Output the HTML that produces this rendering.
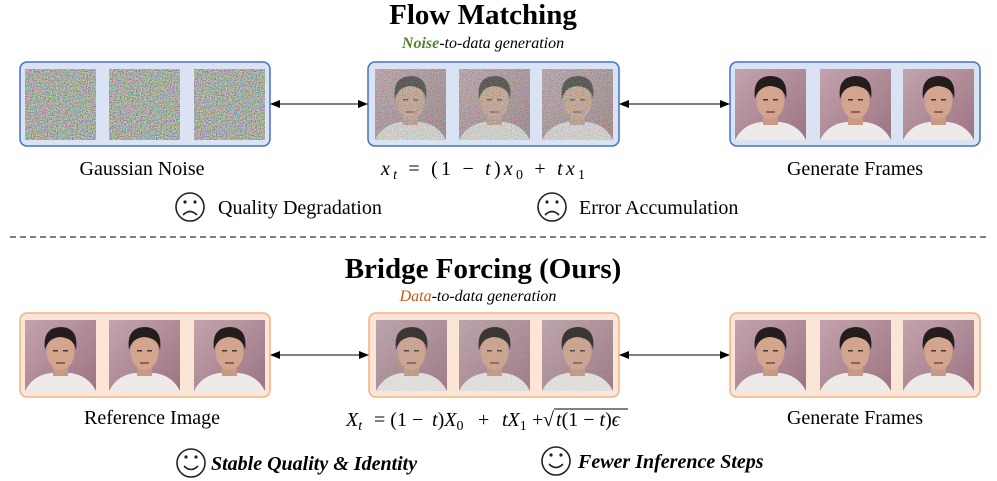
<!DOCTYPE html>
<html><head><meta charset="utf-8"><style>
html,body{margin:0;padding:0;background:#fff;width:997px;height:481px;overflow:hidden}
svg text{font-family:"Liberation Serif",serif}
</style></head><body>
<svg width="997" height="481" viewBox="0 0 997 481" xmlns="http://www.w3.org/2000/svg">
<defs>
<filter id="nz" x="0" y="0" width="100%" height="100%">
<feTurbulence type="fractalNoise" baseFrequency="0.8" numOctaves="2" seed="3"/>
<feColorMatrix type="matrix" values="1.25 0 0 0 -0.23  0 1.25 0 0 -0.2  0 0 1.25 0 -0.24  0 0 0 0 1"/>
</filter>
<linearGradient id="bg" x1="0" y1="0" x2="1" y2="1"><stop offset="0" stop-color="#c3a3ae"/><stop offset="1" stop-color="#9c7482"/></linearGradient>
<g id="face">
<rect width="71" height="71" fill="url(#bg)"/>
<path d="M0 71 Q8 55 26 53 L45 53 Q63 55 71 71Z" fill="#eeeae8"/>
<rect x="28" y="40" width="15" height="16" fill="#c89a85"/>
<ellipse cx="35.5" cy="32" rx="14" ry="18" fill="#d3a48e"/>
<path d="M20 30 Q17 8 35 7 Q54 7 51 30 Q49 18 35 17 Q23 18 20 30Z" fill="#231d1c"/>
<rect x="28" y="30" width="5" height="1.5" fill="#4a3530"/><rect x="38" y="30" width="5" height="1.5" fill="#4a3530"/>
<rect x="31" y="42" width="9" height="2" fill="#9a5a55"/>
</g>
<g id="noise"><rect width="71" height="71" filter="url(#nz)"/></g>
<g id="nface"><use href="#face"/><use href="#noise" opacity="0.45"/></g>
<g id="fface"><use href="#face"/><use href="#noise" opacity="0.18"/></g>
<marker id="ah" markerWidth="10" markerHeight="8" refX="9" refY="4" orient="auto-start-reverse" markerUnits="userSpaceOnUse"><path d="M0 0L10 4L0 8Z" fill="#000"/></marker>
</defs>

<text x="483" y="24" font-size="29" font-weight="bold" text-anchor="middle">Flow Matching</text>
<text x="483" y="48" font-size="16" font-style="italic" text-anchor="middle"><tspan fill="#548235" font-weight="bold">Noise</tspan>-to-data generation</text>

<rect x="20" y="62" width="250" height="84" rx="7" fill="#dae3f3" stroke="#4472c4" stroke-width="1.5"/>
<use href="#noise" x="25" y="69"/><use href="#noise" x="109" y="69"/><use href="#noise" x="194" y="69"/>
<rect x="368" y="62" width="251" height="84" rx="7" fill="#dae3f3" stroke="#4472c4" stroke-width="1.5"/>
<use href="#nface" x="375" y="69"/><use href="#nface" x="459" y="69"/><use href="#nface" x="542" y="69"/>
<rect x="730" y="62" width="250" height="84" rx="7" fill="#dae3f3" stroke="#4472c4" stroke-width="1.5"/>
<use href="#face" x="735" y="69"/><use href="#face" x="820" y="69"/><use href="#face" x="903" y="69"/>

<line x1="271" y1="104" x2="367" y2="104" stroke="#000" marker-start="url(#ah)" marker-end="url(#ah)"/>
<line x1="620" y1="104" x2="729" y2="104" stroke="#000" marker-start="url(#ah)" marker-end="url(#ah)"/>

<text x="142" y="175" font-size="20" text-anchor="middle">Gaussian Noise</text>
<text x="381" y="175" font-size="20" font-style="italic" textLength="204" lengthAdjust="spacing">x<tspan font-size="14" dy="4">t</tspan><tspan dy="-4" font-style="normal"> = (1 − </tspan>t<tspan font-style="normal">)</tspan>x<tspan font-size="14" dy="4" font-style="normal">0</tspan><tspan dy="-4" font-style="normal"> + </tspan>tx<tspan font-size="14" dy="4" font-style="normal">1</tspan></text>
<text x="855" y="175" font-size="20" text-anchor="middle">Generate Frames</text>

<g fill="none" stroke="#222" stroke-width="1.6">
<circle cx="190" cy="207" r="14"/><circle cx="552" cy="207" r="14"/>
<path d="M183 215 Q190 208 197 215"/><path d="M545 215 Q552 208 559 215"/>
</g>
<g fill="#222"><circle cx="185" cy="202" r="1.6"/><circle cx="195" cy="202" r="1.6"/><circle cx="547" cy="202" r="1.6"/><circle cx="557" cy="202" r="1.6"/></g>
<text x="218" y="214" font-size="20">Quality Degradation</text>
<text x="579" y="214" font-size="20">Error Accumulation</text>

<line x1="10" y1="237" x2="987" y2="237" stroke="#333" stroke-width="1.2" stroke-dasharray="6,4"/>

<text x="483" y="278" font-size="29" font-weight="bold" text-anchor="middle">Bridge Forcing (Ours)</text>
<text x="478" y="301" font-size="16" font-style="italic" text-anchor="middle"><tspan fill="#c55a11">Data</tspan>-to-data generation</text>

<rect x="20" y="313" width="250" height="84" rx="7" fill="#fbe5d6" stroke="#f4b183" stroke-width="1.5"/>
<use href="#face" x="25" y="320"/><use href="#face" x="109" y="320"/><use href="#face" x="194" y="320"/>
<rect x="369" y="313" width="250" height="84" rx="7" fill="#fbe5d6" stroke="#f4b183" stroke-width="1.5"/>
<use href="#fface" x="376" y="320"/><use href="#fface" x="459" y="320"/><use href="#fface" x="542" y="320"/>
<rect x="730" y="313" width="250" height="84" rx="7" fill="#fbe5d6" stroke="#f4b183" stroke-width="1.5"/>
<use href="#face" x="735" y="320"/><use href="#face" x="820" y="320"/><use href="#face" x="903" y="320"/>

<line x1="271" y1="355" x2="368" y2="355" stroke="#000" marker-start="url(#ah)" marker-end="url(#ah)"/>
<line x1="620" y1="355" x2="729" y2="355" stroke="#000" marker-start="url(#ah)" marker-end="url(#ah)"/>

<text x="152" y="424" font-size="20" text-anchor="middle">Reference Image</text>
<text x="346" y="426" font-size="20" font-style="italic">X<tspan font-size="14" dy="4">t</tspan><tspan dy="-4" font-style="normal" x="369"> = (1 − </tspan><tspan x="432">t</tspan><tspan font-style="normal">)</tspan>X<tspan font-size="14" dy="4" font-style="normal">0</tspan><tspan dy="-4" font-style="normal" x="478">+ </tspan><tspan x="502">tX</tspan><tspan font-size="14" dy="4" font-style="normal">1</tspan><tspan dy="-4" font-style="normal" x="532">+</tspan><tspan font-style="normal" x="543">√</tspan><tspan x="556">t</tspan><tspan font-style="normal">(1 − </tspan>t<tspan font-style="normal">)</tspan>ϵ</text>
<line x1="554" y1="409" x2="628" y2="409" stroke="#000" stroke-width="1"/>
<text x="855" y="424" font-size="20" text-anchor="middle">Generate Frames</text>

<g fill="none" stroke="#222" stroke-width="1.6">
<circle cx="191" cy="463" r="14"/><circle cx="556" cy="461" r="14"/>
<path d="M184 466 Q191 473 198 466"/><path d="M549 464 Q556 471 563 464"/>
</g>
<g fill="#222"><circle cx="186" cy="457" r="1.6"/><circle cx="196" cy="457" r="1.6"/><circle cx="551" cy="455" r="1.6"/><circle cx="561" cy="455" r="1.6"/></g>
<text x="211" y="470" font-size="20" font-style="italic" font-weight="bold">Stable Quality &amp; Identity</text>
<text x="578" y="468" font-size="20" font-style="italic" font-weight="bold">Fewer Inference Steps</text>
</svg>
</body></html>
